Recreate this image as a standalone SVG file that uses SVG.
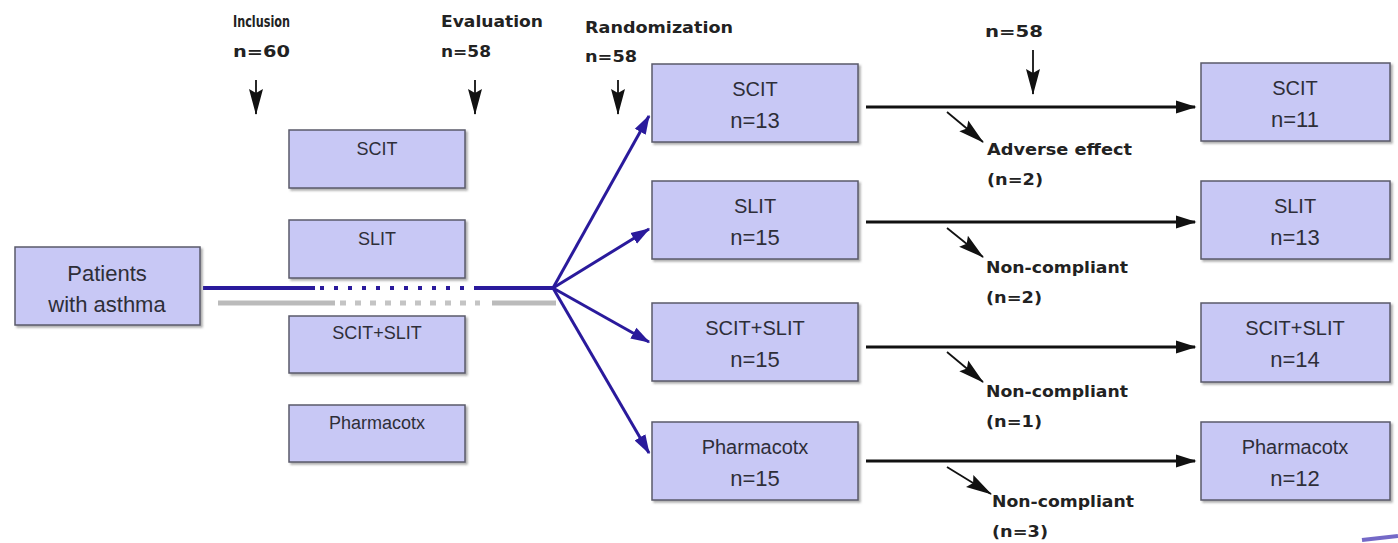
<svg xmlns="http://www.w3.org/2000/svg" width="1398" height="543" viewBox="0 0 1398 543">
<defs>
<marker id="ab" viewBox="0 0 14 10" refX="13" refY="5" markerWidth="7" markerHeight="5" orient="auto" markerUnits="strokeWidth"><path d="M0,0.5 L14,5 L0,9.5 Z" fill="#111"/></marker>
<marker id="au" viewBox="0 0 14 10" refX="13" refY="5" markerWidth="6.5" markerHeight="4.6" orient="auto" markerUnits="strokeWidth"><path d="M0,0.5 L14,5 L0,9.5 Z" fill="#2a1a9c"/></marker>
<marker id="as" viewBox="0 0 26 16" refX="25" refY="8" markerWidth="26" markerHeight="16" orient="auto" markerUnits="userSpaceOnUse"><path d="M0,1 L26,8 L0,15 L4,8 Z" fill="#111"/></marker>
<filter id="sh" x="-5%" y="-5%" width="115%" height="120%"><feDropShadow dx="2" dy="2" stdDeviation="1.2" flood-color="#777" flood-opacity="0.6"/></filter>
</defs>
<style>
.box{fill:#c8c8f5;stroke:#5a5a6a;stroke-width:1.5;filter:url(#sh)}
.t{font-family:"Liberation Sans",Arial,sans-serif;fill:#2e2e38;text-anchor:middle}
.h{font-family:"DejaVu Sans",sans-serif;font-size:15px;font-weight:bold;fill:#222}
.blk{stroke:#111;stroke-width:3;fill:none;marker-end:url(#ab)}
.blu{stroke:#2a1a9c;stroke-width:3;fill:none;marker-end:url(#au)}
.dn{stroke:#111;stroke-width:1.8;fill:none;marker-end:url(#as)}
</style>
<rect width="1398" height="543" fill="#fff"/>
<g id="labels">
<text class="h" x="233" y="27" textLength="57" lengthAdjust="spacingAndGlyphs">Inclusion</text>
<text class="h" x="233" y="57" textLength="57" lengthAdjust="spacingAndGlyphs">n=60</text>
<text class="h" x="441" y="27" textLength="102" lengthAdjust="spacingAndGlyphs">Evaluation</text>
<text class="h" x="441" y="57" textLength="50" lengthAdjust="spacingAndGlyphs">n=58</text>
<text class="h" x="585" y="33" textLength="148" lengthAdjust="spacingAndGlyphs">Randomization</text>
<text class="h" x="585" y="62" textLength="52" lengthAdjust="spacingAndGlyphs">n=58</text>
<text class="h" x="985" y="37" textLength="58" lengthAdjust="spacingAndGlyphs">n=58</text>
<text class="h" x="987" y="155" textLength="145" lengthAdjust="spacingAndGlyphs">Adverse effect</text>
<text class="h" x="987" y="185" textLength="56" lengthAdjust="spacingAndGlyphs">(n=2)</text>
<text class="h" x="986" y="273" textLength="142" lengthAdjust="spacingAndGlyphs">Non-compliant</text>
<text class="h" x="986" y="303" textLength="56" lengthAdjust="spacingAndGlyphs">(n=2)</text>
<text class="h" x="986" y="397" textLength="142" lengthAdjust="spacingAndGlyphs">Non-compliant</text>
<text class="h" x="986" y="427" textLength="56" lengthAdjust="spacingAndGlyphs">(n=1)</text>
<text class="h" x="992" y="507" textLength="142" lengthAdjust="spacingAndGlyphs">Non-compliant</text>
<text class="h" x="992" y="537" textLength="56" lengthAdjust="spacingAndGlyphs">(n=3)</text>
</g>
<g id="connectors">
<path class="dn" d="M256,80 V114"/>
<path class="dn" d="M475,80 V114"/>
<path class="dn" d="M618,80 V114"/>
<path class="dn" d="M1033,50 V94"/>
<path d="M218,303 H335" stroke="#bbb" stroke-width="5"/>
<path d="M340,303 H480" stroke="#c4c4c4" stroke-width="5" stroke-dasharray="6,9"/>
<path d="M492,303 H556" stroke="#bbb" stroke-width="5"/>
<path d="M203,288 H315" stroke="#2a1a9c" stroke-width="4"/>
<path d="M320,288 H470" stroke="#2a1a9c" stroke-width="4" stroke-dasharray="4,10"/>
<path d="M474,288 H553" stroke="#2a1a9c" stroke-width="4"/>
<path class="blu" d="M553,288 L649,116"/>
<path class="blu" d="M553,288 L649,229"/>
<path class="blu" d="M553,288 L649,342"/>
<path class="blu" d="M553,288 L649,453"/>
<path class="blk" d="M866,107 H1195"/>
<path class="blk" d="M866,222 H1195"/>
<path class="blk" d="M866,347 H1195"/>
<path class="blk" d="M866,461 H1195"/>
<path class="dn" d="M947,112 L983,142"/>
<path class="dn" d="M947,228 L983,257"/>
<path class="dn" d="M947,352 L983,382"/>
<path class="dn" d="M947,467 L991,494"/>
<path d="M1362,540 L1398,536" stroke="#3a2ab0" stroke-width="4" opacity="0.7"/>
</g>
<g id="patients"><rect class="box" x="15" y="247" width="185" height="78"/><text class="t" x="107" y="281" font-size="22">Patients</text><text class="t" x="107" y="312" font-size="22">with asthma</text></g>
<g id="eval-scit"><rect class="box" x="289" y="130" width="176" height="58"/><text class="t" x="377" y="155" font-size="18">SCIT</text></g>
<g id="eval-slit"><rect class="box" x="289" y="220" width="176" height="58"/><text class="t" x="377" y="245" font-size="18">SLIT</text></g>
<g id="eval-both"><rect class="box" x="289" y="316" width="176" height="57"/><text class="t" x="377" y="339" font-size="18">SCIT+SLIT</text></g>
<g id="eval-pharma"><rect class="box" x="289" y="405" width="176" height="57"/><text class="t" x="377" y="429" font-size="18">Pharmacotx</text></g>
<g id="rand-scit"><rect class="box" x="652" y="64" width="206" height="78"/><text class="t" x="755" y="96" font-size="20">SCIT</text><text class="t" x="755" y="128" font-size="22">n=13</text></g>
<g id="rand-slit"><rect class="box" x="652" y="181" width="206" height="78"/><text class="t" x="755" y="213" font-size="20">SLIT</text><text class="t" x="755" y="245" font-size="22">n=15</text></g>
<g id="rand-both"><rect class="box" x="652" y="303" width="206" height="78"/><text class="t" x="755" y="335" font-size="20">SCIT+SLIT</text><text class="t" x="755" y="367" font-size="22">n=15</text></g>
<g id="rand-pharma"><rect class="box" x="652" y="422" width="206" height="78"/><text class="t" x="755" y="454" font-size="20">Pharmacotx</text><text class="t" x="755" y="486" font-size="22">n=15</text></g>
<g id="end-scit"><rect class="box" x="1201" y="63" width="189" height="78"/><text class="t" x="1295" y="95" font-size="20">SCIT</text><text class="t" x="1295" y="127" font-size="22">n=11</text></g>
<g id="end-slit"><rect class="box" x="1201" y="181" width="189" height="78"/><text class="t" x="1295" y="213" font-size="20">SLIT</text><text class="t" x="1295" y="245" font-size="22">n=13</text></g>
<g id="end-both"><rect class="box" x="1201" y="303" width="189" height="79"/><text class="t" x="1295" y="335" font-size="20">SCIT+SLIT</text><text class="t" x="1295" y="367" font-size="22">n=14</text></g>
<g id="end-pharma"><rect class="box" x="1201" y="422" width="189" height="78"/><text class="t" x="1295" y="454" font-size="20">Pharmacotx</text><text class="t" x="1295" y="486" font-size="22">n=12</text></g>
</svg>
